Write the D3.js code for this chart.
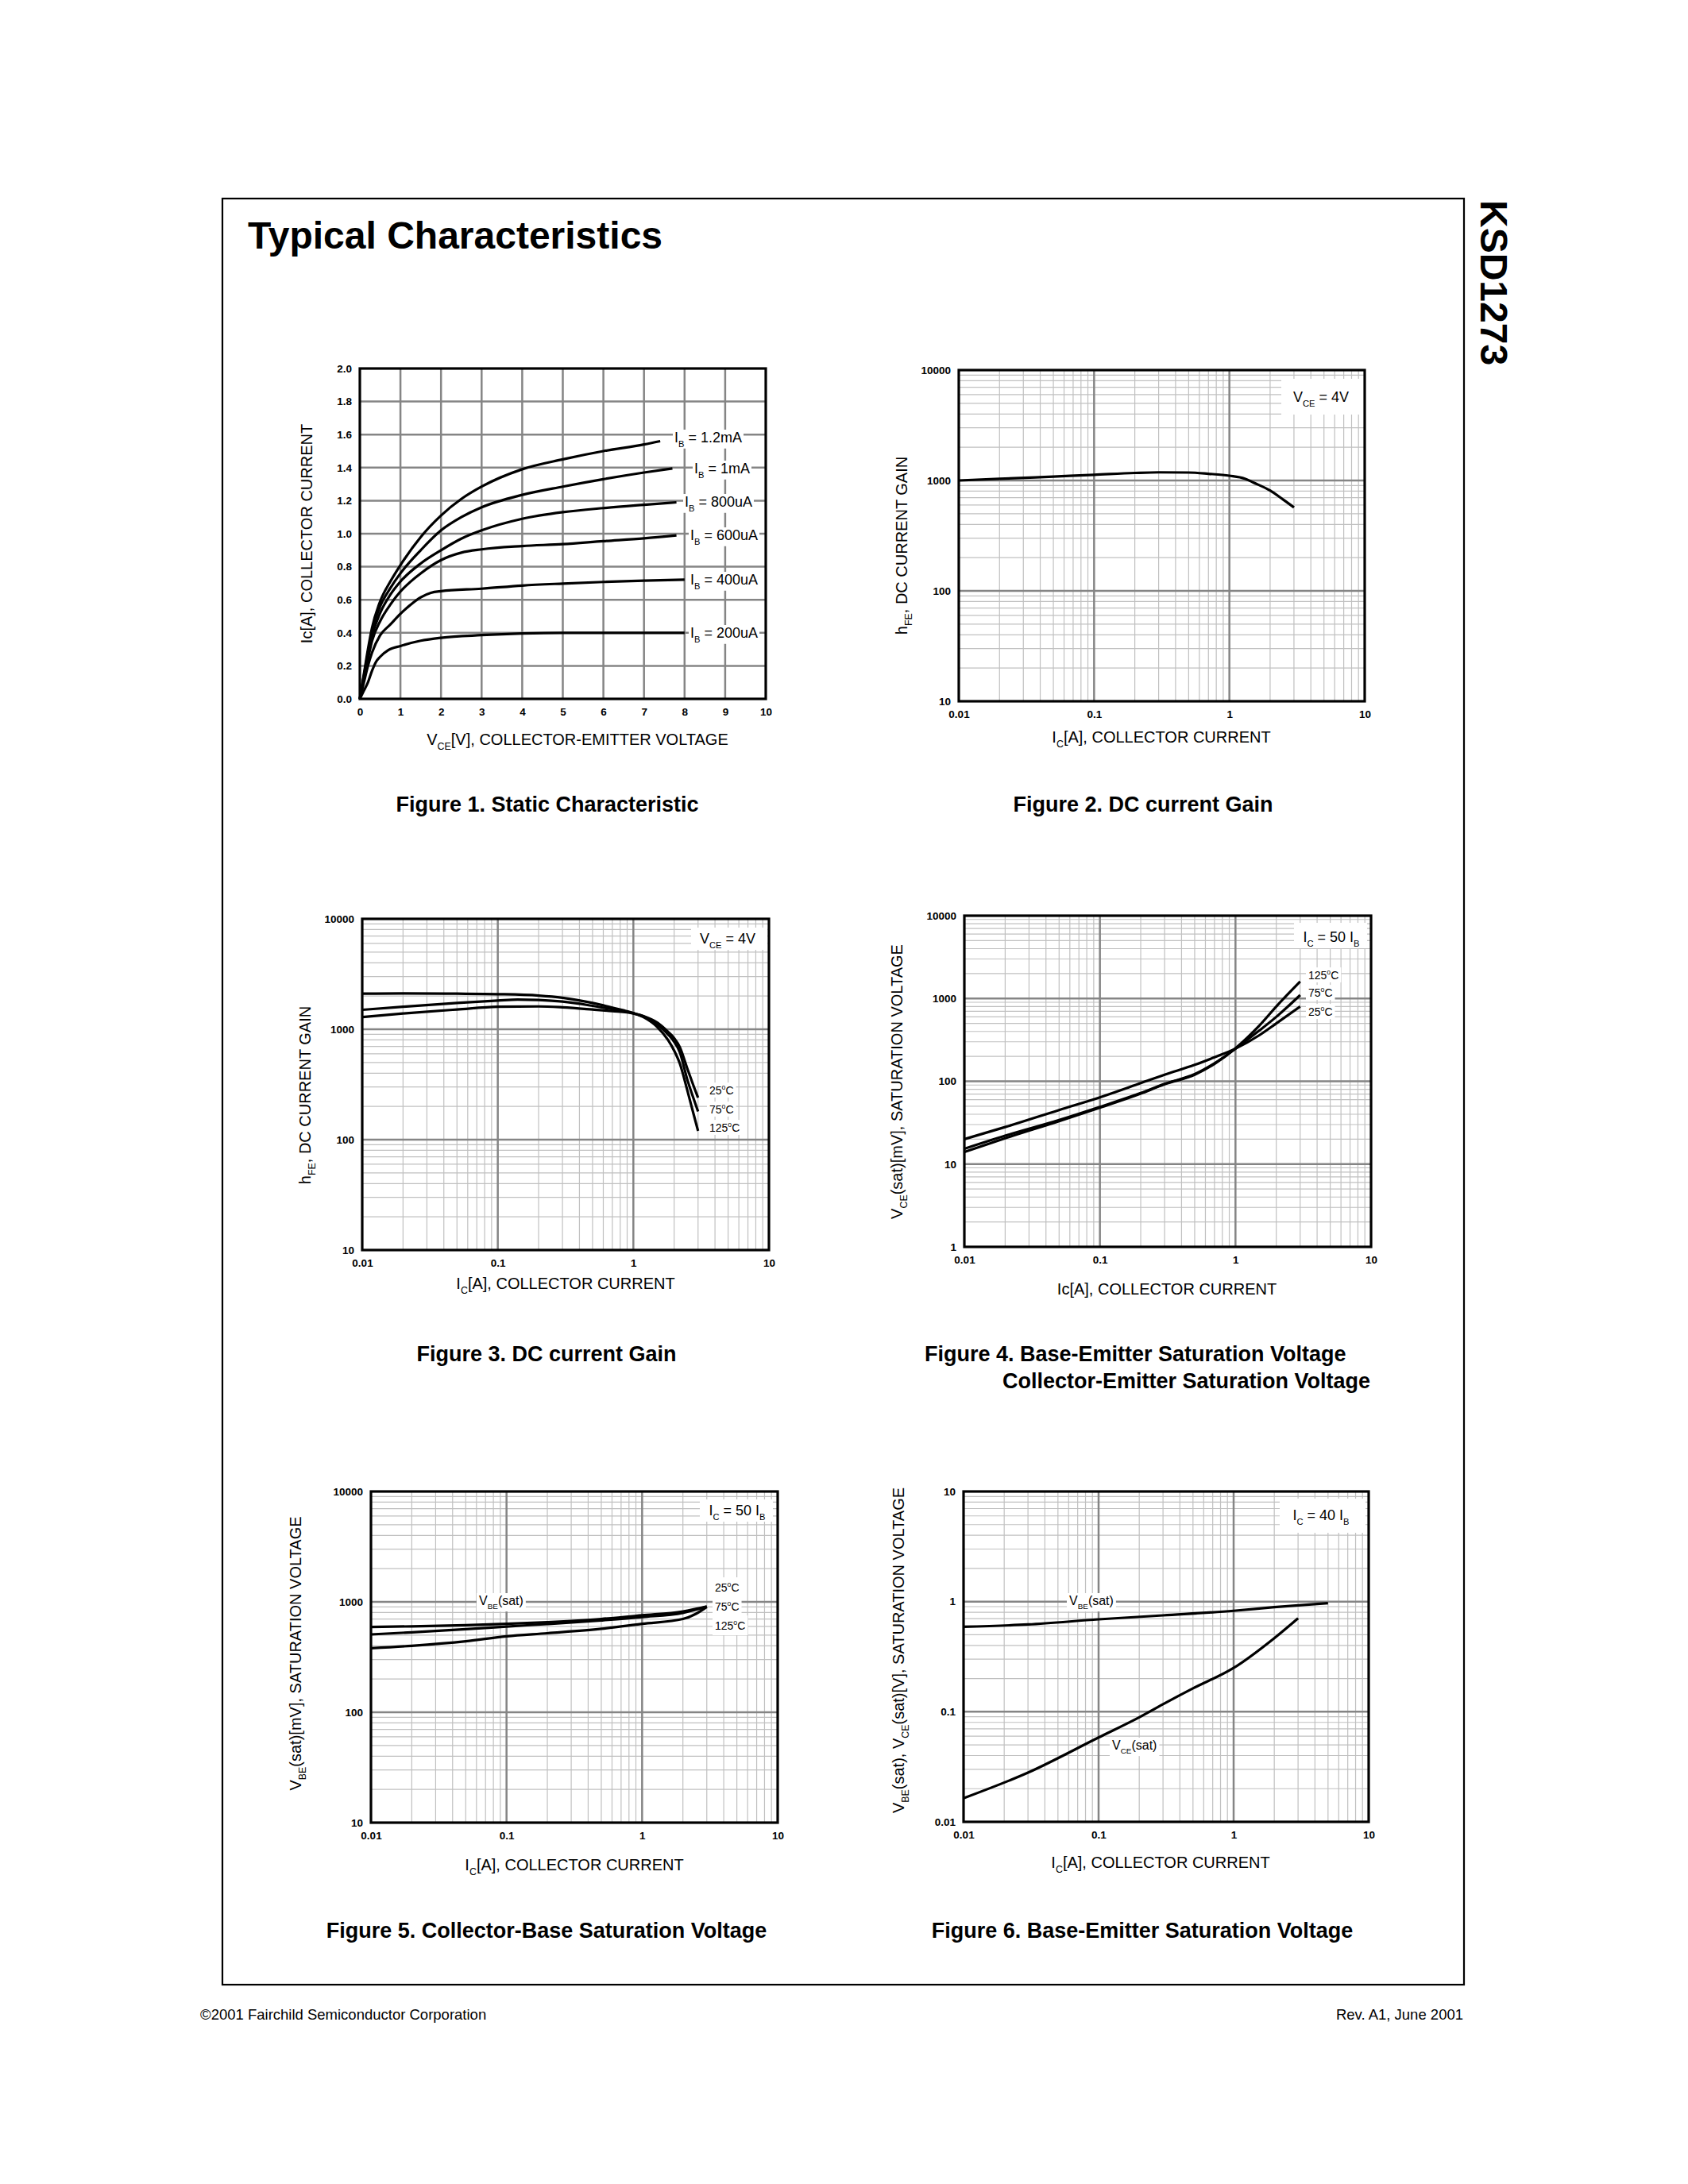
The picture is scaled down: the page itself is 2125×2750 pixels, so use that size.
<!DOCTYPE html>
<html><head><meta charset="utf-8">
<script src="https://cdn.jsdelivr.net/npm/d3@7"></script>
<style>
body{margin:0;background:#fff;}
svg{display:block;}
</style></head><body>
<svg id="page" width="2125" height="2750"></svg>
<script>
// ================= DATA =================
// Figure 1 : Ic [A] vs VCE [V]
const fig1XTicks = [0,1,2,3,4,5,6,7,8,9,10];
const fig1XTickLabels = ["0","1","2","3","4","5","6","7","8","9","10"];
const fig1YTicks = [0,0.2,0.4,0.6,0.8,1.0,1.2,1.4,1.6,1.8,2.0];
const fig1YTickLabels = ["0.0","0.2","0.4","0.6","0.8","1.0","1.2","1.4","1.6","1.8","2.0"];
const ib1200uA = [[0,0],[0.1,0.15],[0.2,0.3],[0.3,0.43],[0.5,0.59],[0.75,0.71],[1,0.81],[1.5,0.98],[2,1.11],[2.5,1.21],[3,1.285],[4,1.39],[5,1.45],[6,1.5],[7,1.54],[7.4,1.56]];
const ib1000uA = [[0,0],[0.1,0.14],[0.2,0.28],[0.3,0.41],[0.5,0.56],[0.75,0.67],[1,0.76],[1.5,0.9],[2,1.02],[2.5,1.1],[3,1.16],[4,1.235],[5,1.285],[6,1.33],[7,1.37],[7.7,1.395]];
const ib800uA  = [[0,0],[0.1,0.13],[0.2,0.26],[0.3,0.38],[0.5,0.52],[0.75,0.63],[1,0.71],[1.5,0.82],[2,0.9],[2.5,0.97],[3,1.02],[4,1.09],[5,1.13],[6,1.155],[7,1.175],[7.8,1.19]];
const ib600uA  = [[0,0],[0.1,0.12],[0.2,0.24],[0.3,0.35],[0.5,0.47],[0.75,0.57],[1,0.65],[1.25,0.71],[1.5,0.76],[2,0.84],[2.5,0.885],[3,0.905],[4,0.925],[5,0.937],[6,0.955],[7,0.972],[7.8,0.99]];
const ib400uA  = [[0,0],[0.1,0.1],[0.2,0.2],[0.3,0.28],[0.5,0.385],[0.75,0.45],[1,0.515],[1.25,0.57],[1.5,0.615],[1.75,0.642],[2,0.652],[3,0.667],[4,0.686],[5,0.698],[6,0.708],[7,0.716],[8,0.722]];
const ib200uA  = [[0,0],[0.1,0.05],[0.2,0.1],[0.3,0.17],[0.4,0.225],[0.5,0.255],[0.7,0.295],[1,0.32],[1.5,0.352],[2,0.37],[3,0.386],[4,0.396],[5,0.4],[6,0.4],[7,0.4],[8,0.4]];

// log axes tick labels
const logXTicks = [0.01,0.1,1,10];
const logXTickLabels = ["0.01","0.1","1","10"];
const gainYTicks = [10,100,1000,10000];
const gainYTickLabels = ["10","100","1000","10000"];
const vceYTicks = [1,10,100,1000,10000];
const vceYTickLabels = ["1","10","100","1000","10000"];
const satYTicks = [0.01,0.1,1,10];
const satYTickLabels = ["0.01","0.1","1","10"];

// Figure 2 : hFE vs Ic (VCE = 4V)
const hfe4V = [[0.01,1000],[0.02,1035],[0.05,1085],[0.1,1125],[0.2,1170],[0.3,1185],[0.5,1180],[0.7,1150],[1,1105],[1.3,1040],[1.5,960],[2,810],[2.5,670],[3,570]];

// Figure 3 : hFE vs Ic at temperatures
const hfe25C  = [[0.01,1290],[0.02,1390],[0.05,1510],[0.1,1600],[0.2,1610],[0.3,1580],[0.5,1510],[0.7,1460],[1,1390],[1.2,1310],[1.5,1150],[1.8,950],[2,830],[2.2,690],[2.5,440],[2.8,300],[3,240]];
const hfe75C  = [[0.01,1500],[0.02,1600],[0.05,1730],[0.1,1820],[0.14,1860],[0.2,1840],[0.3,1780],[0.5,1630],[0.7,1520],[1,1400],[1.2,1300],[1.5,1110],[1.8,900],[2,770],[2.2,620],[2.5,350],[2.8,230],[3,180]];
const hfe125C = [[0.01,2100],[0.02,2110],[0.05,2100],[0.1,2080],[0.2,2020],[0.3,1930],[0.5,1730],[0.7,1570],[1,1400],[1.2,1280],[1.5,1050],[1.8,800],[2,640],[2.2,490],[2.5,280],[2.8,165],[3,120]];

// Figure 4 : VCE(sat) [mV] vs Ic
const vce25C  = [[0.01,20],[0.02,28],[0.05,45],[0.1,64],[0.2,95],[0.3,120],[0.5,158],[0.7,195],[1,248],[1.5,360],[2,500],[3,800]];
const vce75C  = [[0.01,15.3],[0.02,22],[0.05,34],[0.1,49],[0.2,72],[0.3,93],[0.5,122],[0.7,165],[1,248],[1.5,410],[2,600],[3,1100]];
const vce125C = [[0.01,14],[0.02,20.5],[0.05,33],[0.1,48],[0.2,71],[0.3,92],[0.5,120],[0.7,162],[1,250],[1.5,470],[2,800],[3,1600]];

// Figure 5 : VBE(sat) [mV] vs Ic
const vbe25C  = [[0.01,592],[0.02,600],[0.05,615],[0.1,632],[0.2,655],[0.5,700],[1,755],[2,820],[3,910]];
const vbe75C  = [[0.01,507],[0.02,530],[0.05,565],[0.1,598],[0.2,630],[0.5,680],[1,728],[2,795],[3,905]];
const vbe125C = [[0.01,380],[0.02,400],[0.05,440],[0.1,488],[0.2,520],[0.5,570],[1,632],[2,700],[2.5,780],[3,900]];

// Figure 6 : VBE(sat), VCE(sat) [V] vs Ic (IC = 40 IB)
const vbeSat40 = [[0.01,0.59],[0.03,0.62],[0.1,0.69],[0.3,0.75],[1,0.825],[2,0.89],[5,0.967]];
const vceSat40 = [[0.01,0.0164],[0.03,0.028],[0.1,0.0584],[0.2,0.089],[0.3,0.117],[0.5,0.163],[1,0.25],[2,0.466],[3,0.706]];

// ================= DRAWING =================
const FONT = '"Liberation Sans", Arial, Helvetica, sans-serif';
const svg = d3.select('#page');
svg.append('rect').attr('width',2125).attr('height',2750).attr('fill','#fff');

function rich(parent, x, y, parts, size, opt = {}) {
  const t = parent.append('text')
    .attr('transform', `translate(${x},${y}) rotate(${opt.rotate || 0})`)
    .attr('text-anchor', opt.anchor || 'start')
    .attr('font-size', size)
    .attr('font-weight', opt.weight || 'normal')
    .attr('font-family', FONT)
    .attr('fill', '#000');
  let cur = 0;
  parts.forEach(p => {
    const s = typeof p === 'string' ? {t: p} : p;
    const target = s.sub ? size * 0.32 : s.sup ? -size * 0.42 : 0;
    const ts = t.append('tspan').text(s.t).attr('dy', target - cur);
    if (s.sub || s.sup) ts.attr('font-size', size * 0.62);
    cur = target;
  });
  return t;
}
function whiteBehind(parent, t, padX, padY) {
  const b = t.node().getBBox();
  parent.insert('rect', () => t.node())
    .attr('transform', t.attr('transform'))
    .attr('x', b.x - padX).attr('y', b.y - padY)
    .attr('width', b.width + 2 * padX).attr('height', b.height + 2 * padY)
    .attr('fill', '#fff');
}
function styleTicks(sel) {
  sel.select('.domain').remove();
  sel.selectAll('text').attr('font-family', FONT).attr('font-size', 13.5)
     .attr('font-weight', 'bold').attr('fill', '#000');
}
const lineGen = (xs, ys) => d3.line().x(d => xs(d[0])).y(d => ys(d[1])).curve(d3.curveMonotoneX);
const CURVE_W = 3.2, MAJOR_W = 2.5, MAJOR_C = '#858585', MINOR_W = 1.2, MINOR_C = '#c0c0c0';

// ---- page frame, title ----
svg.append('rect').attr('x',280).attr('y',250).attr('width',1563).attr('height',2249)
  .attr('fill','none').attr('stroke','#000').attr('stroke-width',2.2);
rich(svg, 312, 313, ["Typical Characteristics"], 48, {weight:'bold'});
rich(svg, 1864, 252, ["KSD1273"], 48, {weight:'bold', rotate:90});
rich(svg, 252, 2543, ["©2001 Fairchild Semiconductor Corporation"], 18.5);
rich(svg, 1842, 2543, ["Rev. A1, June 2001"], 18.5, {anchor:'end'});

// ---- Figure 1 (linear) ----
(function(){
  const B = {x0:453, x1:964, y0:464, y1:880};
  const g = svg.append('g');
  const xs = d3.scaleLinear().domain([0,10]).range([B.x0,B.x1]);
  const ys = d3.scaleLinear().domain([0,2]).range([B.y1,B.y0]);
  g.append('g').selectAll('line').data(fig1XTicks.slice(1,-1)).join('line')
    .attr('x1',d=>xs(d)).attr('x2',d=>xs(d)).attr('y1',B.y0).attr('y2',B.y1)
    .attr('stroke',MAJOR_C).attr('stroke-width',MAJOR_W);
  g.append('g').selectAll('line').data(fig1YTicks.slice(1,-1)).join('line')
    .attr('y1',d=>ys(d)).attr('y2',d=>ys(d)).attr('x1',B.x0).attr('x2',B.x1)
    .attr('stroke',MAJOR_C).attr('stroke-width',MAJOR_W);
  const series = [
    {d:ib1200uA, lab:["I",{t:"B",sub:true}," = 1.2mA"], lx:849, ly:557},
    {d:ib1000uA, lab:["I",{t:"B",sub:true}," = 1mA"], lx:874, ly:596},
    {d:ib800uA,  lab:["I",{t:"B",sub:true}," = 800uA"], lx:862, ly:638},
    {d:ib600uA,  lab:["I",{t:"B",sub:true}," = 600uA"], lx:869, ly:680},
    {d:ib400uA,  lab:["I",{t:"B",sub:true}," = 400uA"], lx:869, ly:736},
    {d:ib200uA,  lab:["I",{t:"B",sub:true}," = 200uA"], lx:869, ly:803},
  ];
  const lg = lineGen(xs, ys);
  g.append('g').selectAll('path').data(series).join('path')
    .attr('d', s => lg(s.d)).attr('fill','none').attr('stroke','#000')
    .attr('stroke-width',CURVE_W).attr('stroke-linejoin','round');
  series.forEach(s => { const t = rich(g, s.lx, s.ly, s.lab, 18); whiteBehind(g, t, 2, 0); });
  g.append('rect').attr('x',B.x0).attr('y',B.y0).attr('width',B.x1-B.x0).attr('height',B.y1-B.y0)
    .attr('fill','none').attr('stroke','#000').attr('stroke-width',3.2);
  g.append('g').attr('transform',`translate(0,${B.y1})`)
    .call(d3.axisBottom(xs).tickValues(fig1XTicks).tickFormat((d,i)=>fig1XTickLabels[i]).tickSize(0).tickPadding(11))
    .call(styleTicks);
  g.append('g').attr('transform',`translate(${B.x0},0)`)
    .call(d3.axisLeft(ys).tickValues(fig1YTicks).tickFormat((d,i)=>fig1YTickLabels[i]).tickSize(0).tickPadding(10))
    .call(styleTicks);
  rich(g, 727, 938, ["V",{t:"CE",sub:true},"[V], COLLECTOR-EMITTER VOLTAGE"], 20, {anchor:'middle'});
  rich(g, 393, 672, ["Ic[A], COLLECTOR CURRENT"], 20, {anchor:'middle', rotate:-90});
})();

// ---- log charts ----
function logChart(c) {
  const B = c.box;
  const g = svg.append('g');
  const xs = d3.scaleLog().domain(c.xDomain).range([B.x0,B.x1]);
  const ys = d3.scaleLog().domain(c.yDomain).range([B.y1,B.y0]);
  const minors = dom => { const a=[]; for (let e=Math.round(Math.log10(dom[0])); e<Math.round(Math.log10(dom[1])); e++) for (let k=2;k<=9;k++) a.push(k*Math.pow(10,e)); return a; };
  const majors = dom => { const a=[]; for (let e=Math.round(Math.log10(dom[0]))+1; e<Math.round(Math.log10(dom[1])); e++) a.push(Math.pow(10,e)); return a; };
  g.append('g').selectAll('line').data(minors(c.xDomain)).join('line')
    .attr('x1',d=>xs(d)).attr('x2',d=>xs(d)).attr('y1',B.y0).attr('y2',B.y1)
    .attr('stroke',MINOR_C).attr('stroke-width',MINOR_W);
  g.append('g').selectAll('line').data(minors(c.yDomain)).join('line')
    .attr('y1',d=>ys(d)).attr('y2',d=>ys(d)).attr('x1',B.x0).attr('x2',B.x1)
    .attr('stroke',MINOR_C).attr('stroke-width',MINOR_W);
  g.append('g').selectAll('line').data(majors(c.xDomain)).join('line')
    .attr('x1',d=>xs(d)).attr('x2',d=>xs(d)).attr('y1',B.y0).attr('y2',B.y1)
    .attr('stroke',MAJOR_C).attr('stroke-width',MAJOR_W);
  g.append('g').selectAll('line').data(majors(c.yDomain)).join('line')
    .attr('y1',d=>ys(d)).attr('y2',d=>ys(d)).attr('x1',B.x0).attr('x2',B.x1)
    .attr('stroke',MAJOR_C).attr('stroke-width',MAJOR_W);
  // legend box
  const lb = c.legendBox;
  g.append('rect').attr('x',lb.x).attr('y',lb.y).attr('width',lb.w).attr('height',lb.h).attr('fill','#fff');
  rich(g, lb.tx, lb.ty, c.legend, 18, {anchor:'middle'});
  // curves
  const lg = lineGen(xs, ys);
  g.append('g').selectAll('path').data(c.series).join('path')
    .attr('d', s => lg(s)).attr('fill','none').attr('stroke','#000')
    .attr('stroke-width',CURVE_W).attr('stroke-linejoin','round');
  // labels
  (c.labels || []).forEach(l => { const t = rich(g, l.x, l.y, l.parts, l.size); whiteBehind(g, t, l.px || 3, l.py || 1); });
  g.append('rect').attr('x',B.x0).attr('y',B.y0).attr('width',B.x1-B.x0).attr('height',B.y1-B.y0)
    .attr('fill','none').attr('stroke','#000').attr('stroke-width',3.2);
  g.append('g').attr('transform',`translate(0,${B.y1})`)
    .call(d3.axisBottom(xs).tickValues(logXTicks).tickFormat((d,i)=>logXTickLabels[i]).tickSize(0).tickPadding(11))
    .call(styleTicks);
  g.append('g').attr('transform',`translate(${B.x0},0)`)
    .call(d3.axisLeft(ys).tickValues(c.yTicks).tickFormat((d,i)=>c.yTickLabels[i]).tickSize(0).tickPadding(10))
    .call(styleTicks);
  rich(g, c.xTitlePos[0], c.xTitlePos[1], c.xTitle, 20, {anchor:'middle'});
  rich(g, c.yTitlePos[0], c.yTitlePos[1], c.yTitle, 20, {anchor:'middle', rotate:-90});
}
const deg = n => [n, {t:"o", sup:true}, "C"];

logChart({box:{x0:1207,x1:1718,y0:466,y1:883}, xDomain:[0.01,10], yDomain:[10,10000],
  yTicks:gainYTicks, yTickLabels:gainYTickLabels, series:[hfe4V],
  legendBox:{x:1613,y:477,w:104,h:45,tx:1663,ty:506}, legend:["V",{t:"CE",sub:true}," = 4V"],
  xTitle:["I",{t:"C",sub:true},"[A], COLLECTOR CURRENT"], xTitlePos:[1462,935],
  yTitle:["h",{t:"FE",sub:true},", DC CURRENT GAIN"], yTitlePos:[1142,687]});

logChart({box:{x0:456,x1:968,y0:1157,y1:1574}, xDomain:[0.01,10], yDomain:[10,10000],
  yTicks:gainYTicks, yTickLabels:gainYTickLabels, series:[hfe25C,hfe75C,hfe125C],
  legendBox:{x:870,y:1168,w:96,h:28,tx:916,ty:1188}, legend:["V",{t:"CE",sub:true}," = 4V"],
  labels:[{x:893,y:1378,parts:deg("25"),size:14},{x:893,y:1402,parts:deg("75"),size:14},{x:893,y:1425,parts:deg("125"),size:14}],
  xTitle:["I",{t:"C",sub:true},"[A], COLLECTOR CURRENT"], xTitlePos:[712,1623],
  yTitle:["h",{t:"FE",sub:true},", DC CURRENT GAIN"], yTitlePos:[391,1379]});

logChart({box:{x0:1214,x1:1726,y0:1153,y1:1570}, xDomain:[0.01,10], yDomain:[1,10000],
  yTicks:vceYTicks, yTickLabels:vceYTickLabels, series:[vce25C,vce75C,vce125C],
  legendBox:{x:1629,y:1162,w:92,h:32,tx:1676,ty:1186}, legend:["I",{t:"C",sub:true}," = 50 I",{t:"B",sub:true}],
  labels:[{x:1647,y:1233,parts:deg("125"),size:14},{x:1647,y:1255,parts:deg("75"),size:14},{x:1647,y:1279,parts:deg("25"),size:14}],
  xTitle:["Ic[A], COLLECTOR CURRENT"], xTitlePos:[1469,1630],
  yTitle:["V",{t:"CE",sub:true},"(sat)[mV], SATURATION VOLTAGE"], yTitlePos:[1136,1362]});

logChart({box:{x0:467,x1:979,y0:1878,y1:2295}, xDomain:[0.01,10], yDomain:[10,10000],
  yTicks:gainYTicks, yTickLabels:gainYTickLabels, series:[vbe25C,vbe75C,vbe125C],
  legendBox:{x:881,y:1888,w:92,h:28,tx:928,ty:1908}, legend:["I",{t:"C",sub:true}," = 50 I",{t:"B",sub:true}],
  labels:[{x:900,y:2004,parts:deg("25"),size:14,py:4},{x:900,y:2028,parts:deg("75"),size:14,py:4},{x:900,y:2052,parts:deg("125"),size:14,py:4},
          {x:603,y:2021,parts:["V",{t:"BE",sub:true},"(sat)"],size:16}],
  xTitle:["I",{t:"C",sub:true},"[A], COLLECTOR CURRENT"], xTitlePos:[723,2355],
  yTitle:["V",{t:"BE",sub:true},"(sat)[mV], SATURATION VOLTAGE"], yTitlePos:[379,2082]});

logChart({box:{x0:1213,x1:1723,y0:1878,y1:2294}, xDomain:[0.01,10], yDomain:[0.01,10],
  yTicks:satYTicks, yTickLabels:satYTickLabels, series:[vbeSat40,vceSat40],
  legendBox:{x:1611,y:1887,w:108,h:43,tx:1663,ty:1914}, legend:["I",{t:"C",sub:true}," = 40 I",{t:"B",sub:true}],
  labels:[{x:1346,y:2021,parts:["V",{t:"BE",sub:true},"(sat)"],size:16},
          {x:1400,y:2203,parts:["V",{t:"CE",sub:true},"(sat)"],size:16}],
  xTitle:["I",{t:"C",sub:true},"[A], COLLECTOR CURRENT"], xTitlePos:[1461,2352],
  yTitle:["V",{t:"BE",sub:true},"(sat),  V",{t:"CE",sub:true},"(sat)[V], SATURATION VOLTAGE"], yTitlePos:[1138,2078]});

// ---- captions ----
const cap = (x,y,s,anchor) => rich(svg, x, y, [s], 27, {weight:'bold', anchor});
cap(689,1022,"Figure 1. Static Characteristic",'middle');
cap(1439,1022,"Figure 2. DC current Gain",'middle');
cap(688,1714,"Figure 3. DC current Gain",'middle');
cap(1164,1714,"Figure 4. Base-Emitter Saturation Voltage",'start');
cap(1262,1748,"Collector-Emitter Saturation Voltage",'start');
cap(688,2440,"Figure 5. Collector-Base Saturation Voltage",'middle');
cap(1438,2440,"Figure 6. Base-Emitter Saturation Voltage",'middle');
</script>
</body></html>
